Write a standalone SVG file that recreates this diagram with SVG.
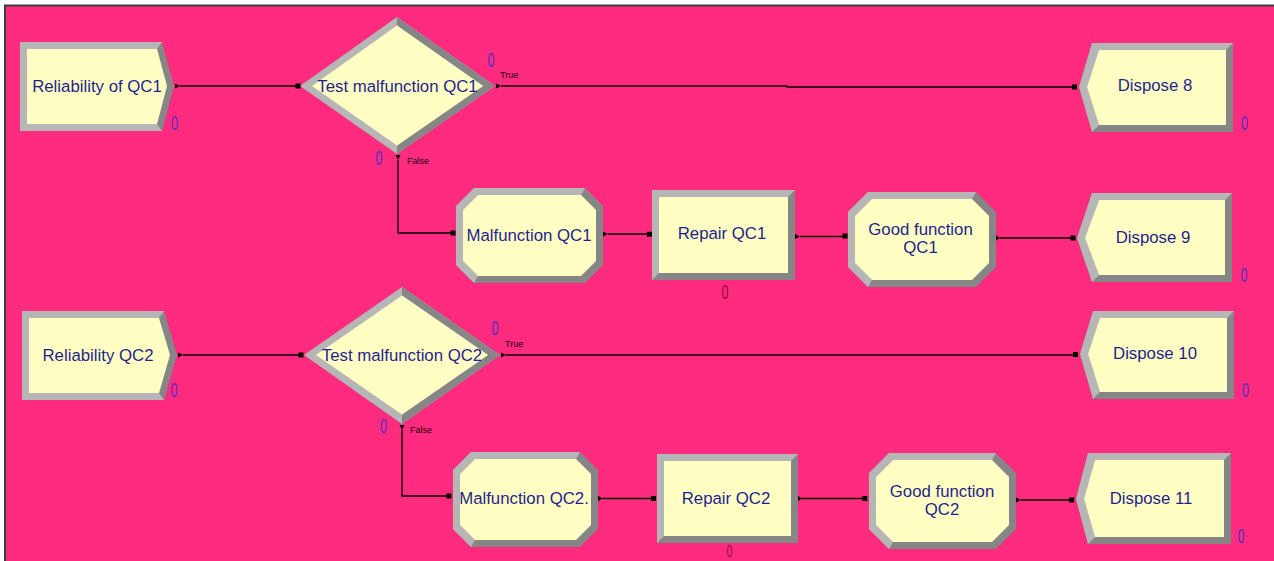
<svg xmlns="http://www.w3.org/2000/svg" width="1274" height="561" viewBox="0 0 1274 561">
<style>
.lt{fill:#B6B6B6}
.dk{fill:#868686}
.in{fill:#FFFFC4}
.lbl{font-family:"Liberation Sans",Arial,sans-serif;font-size:16.8px;fill:#1F1F8F;text-anchor:middle}
.cnt{font-family:"Liberation Sans",Arial,sans-serif;font-size:20px;fill:#5B2DC0;text-anchor:middle}
.cntr{font-family:"Liberation Sans",Arial,sans-serif;font-size:20px;fill:#9B0A3C;text-anchor:middle}
.tf{font-family:"Liberation Sans",Arial,sans-serif;font-size:9px;fill:#200008}
.ln{fill:none;stroke:#000;stroke-width:1.3}
.pt{fill:#000}
</style>
<rect x="0" y="0" width="1274" height="561" fill="#FFFFFF"/>
<rect x="5" y="5" width="1269" height="556" fill="#FE2B7E"/>
<path d="M5,561 V5.5 H1274" fill="none" stroke="#3C3C3C" stroke-width="2"/>

<g id="create1">
<polygon class="dk" points="20,42 162,42 174,86 162,131 20,131"/>
<polygon class="lt" points="20,42 162,42 157,49 27,49 27,124 157,124 162,131 20,131"/>
<polygon class="in" points="27,49 157,49 167,86 157,124 27,124"/>
<text class="lbl" x="97" y="92">Reliability of QC1</text>
<text class="cnt" x="174.5" y="130" textLength="7" lengthAdjust="spacingAndGlyphs">0</text>
</g>

<g id="decide1">
<polygon class="lt" points="300,86 397,17 495,86 397,154"/>
<polygon class="dk" points="397,17 495,86 397,154 397,145.4 483,86 397,25.6"/>
<polygon class="in" points="312,86 397,25.6 483,86 397,145.4"/>
<text class="lbl" x="397.5" y="92">Test malfunction QC1</text>
<text class="cnt" x="491" y="67" textLength="7" lengthAdjust="spacingAndGlyphs">0</text>
<text class="cnt" x="379" y="165" textLength="7" lengthAdjust="spacingAndGlyphs">0</text>
<text class="tf" x="500" y="78">True</text>
<text class="tf" x="407" y="164">False</text>
</g>

<g id="dispose8">
<polygon class="dk" points="1079,87 1092,43 1233,43 1233,132 1092,132"/>
<polygon class="lt" points="1092,43 1233,43 1226,50 1099,50 1087,87 1099,125 1092,132 1079,87"/>
<polygon class="in" points="1087,87 1099,50 1226,50 1226,125 1099,125"/>
<text class="lbl" x="1155" y="91">Dispose 8</text>
<text class="cnt" x="1244.5" y="130" textLength="7" lengthAdjust="spacingAndGlyphs">0</text>
</g>

<g id="malfunction1">
<polygon class="dk" points="474,188 585,188 603,206 603,265 585,283 474,283 456,265 456,206"/>
<polygon class="lt" points="585,188 581,195 478,195 463,210 463,261 478,276 474,283 456,265 456,206 474,188"/>
<polygon class="in" points="478,195 581,195 596,210 596,261 581,276 478,276 463,261 463,210"/>
<text class="lbl" x="529" y="241">Malfunction QC1</text>
</g>

<g id="repair1">
<rect class="dk" x="652" y="190" width="143" height="90"/>
<polygon class="lt" points="652,190 795,190 788,197 659,197 659,273 652,280"/>
<rect class="in" x="659" y="197" width="129" height="76"/>
<text class="lbl" x="722" y="239">Repair QC1</text>
<text class="cntr" x="725" y="299" textLength="7" lengthAdjust="spacingAndGlyphs">0</text>
</g>

<g id="goodfunction1">
<polygon class="dk" points="868,192 976,192 996,212 996,267 976,287 868,287 848,267 848,212"/>
<polygon class="lt" points="976,192 972,199 872,199 855,216 855,263 872,280 868,287 848,267 848,212 868,192"/>
<polygon class="in" points="872,199 972,199 989,216 989,263 972,280 872,280 855,263 855,216"/>
<text class="lbl" x="920.5" y="235">Good function</text>
<text class="lbl" x="920.5" y="252.5">QC1</text>
</g>

<g id="dispose9">
<polygon class="dk" points="1077,238 1092,193 1232,193 1232,282 1092,282"/>
<polygon class="lt" points="1092,193 1232,193 1225,200 1099,200 1085,238 1099,275 1092,282 1077,238"/>
<polygon class="in" points="1085,238 1099,200 1225,200 1225,275 1099,275"/>
<text class="lbl" x="1153" y="243">Dispose 9</text>
<text class="cnt" x="1244" y="282" textLength="7" lengthAdjust="spacingAndGlyphs">0</text>
</g>

<g id="create2">
<polygon class="dk" points="22,311 164,311 177,355 164,400 22,400"/>
<polygon class="lt" points="22,311 164,311 159,318 29,318 29,393 159,393 164,400 22,400"/>
<polygon class="in" points="29,318 159,318 170,355 159,393 29,393"/>
<text class="lbl" x="98" y="361">Reliability QC2</text>
<text class="cnt" x="174" y="397" textLength="7" lengthAdjust="spacingAndGlyphs">0</text>
</g>

<g id="decide2">
<polygon class="lt" points="304,355 402,287 500,355 402,424"/>
<polygon class="dk" points="402,287 500,355 402,424 402,414.4 488,355 402,295.6"/>
<polygon class="in" points="316,355 402,295.6 488,355 402,414.4"/>
<text class="lbl" x="402" y="361">Test malfunction QC2</text>
<text class="cnt" x="495" y="335" textLength="7" lengthAdjust="spacingAndGlyphs">0</text>
<text class="cnt" x="383.5" y="433" textLength="7" lengthAdjust="spacingAndGlyphs">0</text>
<text class="tf" x="505" y="347">True</text>
<text class="tf" x="410" y="433">False</text>
</g>

<g id="dispose10">
<polygon class="dk" points="1080,354 1093,311 1234,311 1234,399 1093,399"/>
<polygon class="lt" points="1093,311 1234,311 1227,318 1100,318 1088,354 1100,392 1093,399 1080,354"/>
<polygon class="in" points="1088,354 1100,318 1227,318 1227,392 1100,392"/>
<text class="lbl" x="1155" y="359">Dispose 10</text>
<text class="cnt" x="1245.5" y="397" textLength="7" lengthAdjust="spacingAndGlyphs">0</text>
</g>

<g id="malfunction2">
<polygon class="dk" points="471,452 580,452 598,470 598,529 580,547 471,547 453,529 453,470"/>
<polygon class="lt" points="580,452 576,459 475,459 460,474 460,525 475,540 471,547 453,529 453,470 471,452"/>
<polygon class="in" points="475,459 576,459 591,474 591,525 576,540 475,540 460,525 460,474"/>
<text class="lbl" x="524" y="503.5">Malfunction QC2.</text>
</g>

<g id="repair2">
<rect class="dk" x="657" y="454" width="141" height="89"/>
<polygon class="lt" points="657,454 798,454 791,461 664,461 664,536 657,543"/>
<rect class="in" x="664" y="461" width="127" height="75"/>
<text class="lbl" x="726" y="504">Repair QC2</text>
<text class="cntr" x="729.5" y="557" style="font-size:16px" textLength="6" lengthAdjust="spacingAndGlyphs">0</text>
</g>

<g id="goodfunction2">
<polygon class="dk" points="889,453 996,453 1016,473 1016,529 996,549 889,549 869,529 869,473"/>
<polygon class="lt" points="996,453 992,460 893,460 876,477 876,525 893,542 889,549 869,529 869,473 889,453"/>
<polygon class="in" points="893,460 992,460 1009,477 1009,525 992,542 893,542 876,525 876,477"/>
<text class="lbl" x="942" y="497">Good function</text>
<text class="lbl" x="942" y="515">QC2</text>
</g>

<g id="dispose11">
<polygon class="dk" points="1076,499 1088,453 1231,453 1231,544 1088,544"/>
<polygon class="lt" points="1088,453 1231,453 1224,460 1095,460 1084,499 1095,537 1088,544 1076,499"/>
<polygon class="in" points="1084,499 1095,460 1224,460 1224,537 1095,537"/>
<text class="lbl" x="1151" y="504">Dispose 11</text>
<text class="cnt" x="1241" y="542.5" textLength="7" lengthAdjust="spacingAndGlyphs">0</text>
</g>

<g id="connectors">
<path class="ln" d="M180,86 H296"/>
<path class="ln" d="M501,86 H787 V87 H1072"/>
<path class="ln" d="M398,160 V233 H451"/>
<path class="ln" d="M608,234 H647"/>
<path class="ln" d="M800,236.5 H843"/>
<path class="ln" d="M1000,238 H1071"/>
<path class="ln" d="M183,355 H299"/>
<path class="ln" d="M506,355 H1073"/>
<path class="ln" d="M402,430 V496 H447"/>
<path class="ln" d="M603,498.5 H651"/>
<path class="ln" d="M802,498.5 H862"/>
<path class="ln" d="M1021,500 H1069"/>
<polygon class="pt" points="175,83.5 180,86 175,88.5"/>
<polygon class="pt" points="496,83.5 501,86 496,88.5"/>
<polygon class="pt" points="395.5,155 400.5,155 398,160"/>
<polygon class="pt" points="603,231.5 608,234 603,236.5"/>
<polygon class="pt" points="795,234 800,236.5 795,239"/>
<polygon class="pt" points="996,235.5 1000,238 996,240.5"/>
<polygon class="pt" points="178,352.5 183,355 178,357.5"/>
<polygon class="pt" points="501,352.5 506,355 501,357.5"/>
<polygon class="pt" points="399.5,425 404.5,425 402,430"/>
<polygon class="pt" points="598,496 603,498.5 598,501"/>
<polygon class="pt" points="798,496 802,498.5 798,501"/>
<polygon class="pt" points="1016,497.5 1021,500 1016,502.5"/>
<rect class="pt" x="295.5" y="83.5" width="5" height="5"/>
<rect class="pt" x="1072" y="84.5" width="5" height="5"/>
<rect class="pt" x="450.5" y="230.5" width="5" height="5"/>
<rect class="pt" x="647" y="231.8" width="5" height="5"/>
<rect class="pt" x="842.5" y="233.5" width="5" height="5"/>
<rect class="pt" x="1070.5" y="235.5" width="5" height="5"/>
<rect class="pt" x="298.5" y="352.5" width="5" height="5"/>
<rect class="pt" x="1073" y="352" width="5" height="5"/>
<rect class="pt" x="446.5" y="493.5" width="5" height="5"/>
<rect class="pt" x="651" y="496" width="5" height="5"/>
<rect class="pt" x="862.3" y="496" width="5" height="5"/>
<rect class="pt" x="1069.2" y="497.5" width="5" height="5"/>
</g>
</svg>
